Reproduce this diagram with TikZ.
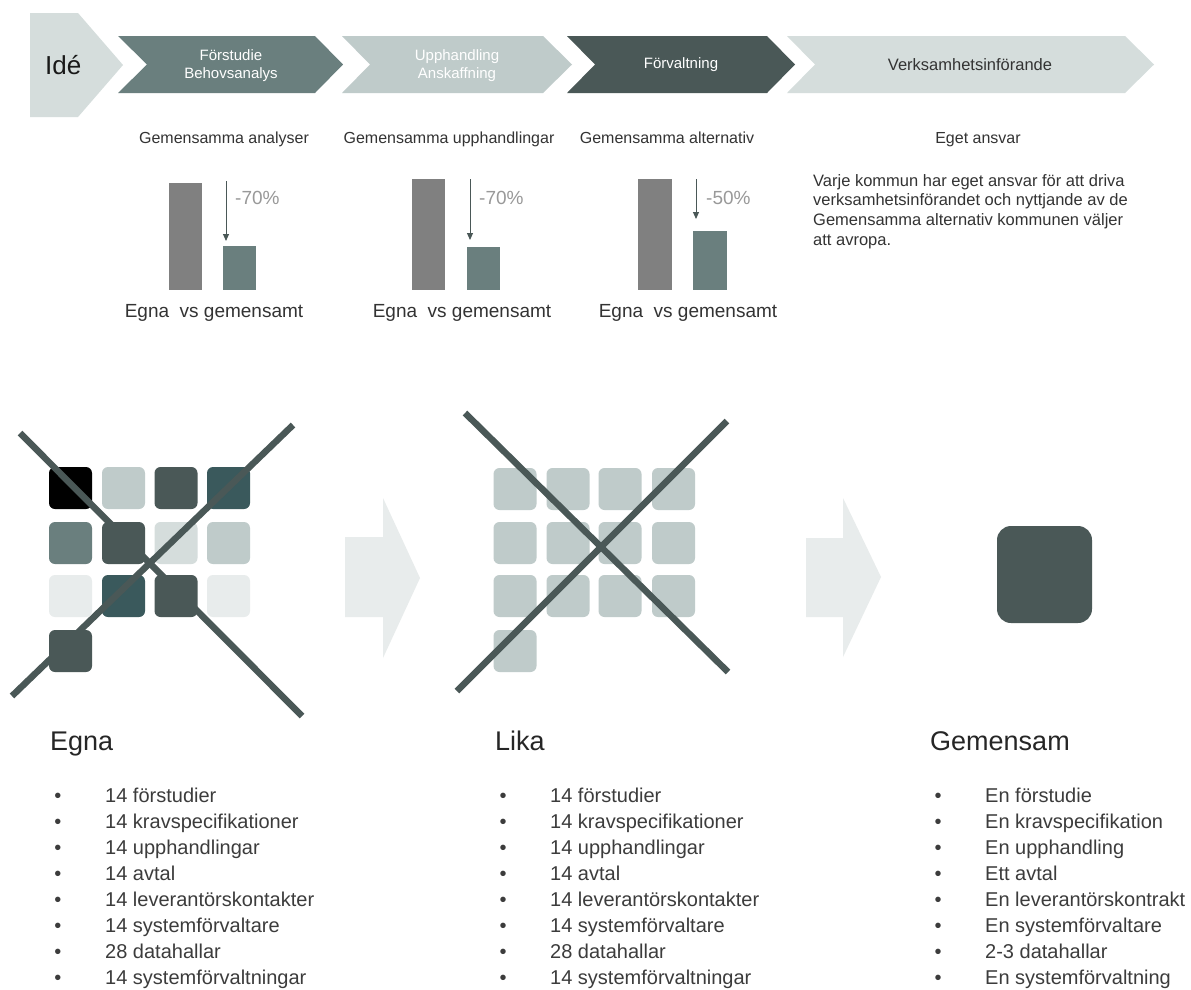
\documentclass[tikz,border=0pt]{standalone}
\usepackage{fontspec}
\setmainfont{Liberation Sans}
\usetikzlibrary{arrows.meta}
\definecolor{cLight}{HTML}{D5DDDC}
\definecolor{cMid}{HTML}{BFCBCA}
\definecolor{cTeal}{HTML}{6A7F7E}
\definecolor{cDark}{HTML}{4A5857}
\definecolor{cDeep}{HTML}{3A595C}
\definecolor{cPale}{HTML}{E8ECEC}
\definecolor{cBar}{HTML}{808080}
\definecolor{cTxt}{HTML}{333333}
\definecolor{cList}{HTML}{3C3C3C}
\definecolor{cPct}{HTML}{999999}
\begin{document}
\begin{tikzpicture}[x=1pt,y=-1pt,
  sq/.style={rectangle, rounded corners=6pt, minimum width=43pt, minimum height=42pt, inner sep=0pt},
  txt/.style={inner sep=0pt, text=cTxt},
  chevtxt/.style={inner sep=0pt, align=center, font=\fontsize{15}{18.5}\selectfont},
  caption/.style={txt, anchor=base, font=\fontsize{16}{19}\selectfont},
  para/.style={txt, anchor=base west, font=\fontsize{16.5}{19.5}\selectfont},
  evs/.style={txt, anchor=base, font=\fontsize{19}{22}\selectfont},
  pct/.style={inner sep=0pt, anchor=base west, text=cPct, font=\fontsize{19}{22}\selectfont},
  smallarrow/.style={draw=cDark, line width=1pt, -{Triangle[length=7pt,width=6pt]}},
  cross/.style={draw=cDark, line width=6.5pt},
  head/.style={inner sep=0pt, anchor=base west, text=black!85, font=\fontsize{27}{30}\selectfont},
  item/.style={inner sep=0pt, anchor=base west, text=cList, font=\fontsize{20}{24}\selectfont},
  bul/.style={inner sep=0pt, anchor=base, text=cList, font=\fontsize{20}{24}\selectfont},
  bigarrow/.style={fill=cPale}
]
\useasboundingbox (0,0) rectangle (1191,989);
\fill[white] (0,0) rectangle (1191,989);

% ---------- process banner ----------
\fill[cLight] (30,13) -- (78,13) -- (123,65) -- (78,117) -- (30,117) -- cycle;
\fill[cTeal] (118,36) -- (315,36) -- (343,64.5) -- (315,93) -- (118,93) -- (147,64.5) -- cycle;
\fill[cMid] (342,36) -- (543,36) -- (572,64.5) -- (543,93) -- (342,93) -- (370,64.5) -- cycle;
\fill[cDark] (567,36) -- (767,36) -- (795,64.5) -- (767,93) -- (567,93) -- (595,64.5) -- cycle;
\fill[cLight] (787,36) -- (1125,36) -- (1154,64.5) -- (1125,93) -- (787,93) -- (815,64.5) -- cycle;

\node[inner sep=0pt, anchor=base west, text=black!90, font=\fontsize{26}{30}\selectfont] (ide) at (45,74) {Idé};
\node[chevtxt, text=white] (fs) at (231,65.5) {Förstudie\\Behovsanalys};
\node[chevtxt, text=white] (up) at (457,65.5) {Upphandling\\Anskaffning};
\node[chevtxt, text=white] (fv) at (681,65) {Förvaltning};
\node[chevtxt, text=cTxt, font=\fontsize{16.5}{19}\selectfont] (vi) at (970,65) {Verksamhetsinförande};

% ---------- captions ----------
\node[caption] (c1) at (224,143) {Gemensamma analyser};
\node[caption] (c2) at (449,143) {Gemensamma upphandlingar};
\node[caption] (c3) at (667,143) {Gemensamma alternativ};
\node[caption] (c4) at (978,143) {Eget ansvar};

\node[para] (p1) at (813,186) {Varje kommun har eget ansvar för att driva};
\node[para] (p2) at (813,205.7) {verksamhetsinförandet och nyttjande av de};
\node[para] (p3) at (813,225.4) {Gemensamma alternativ kommunen väljer};
\node[para] (p4) at (813,245.1) {att avropa.};

% ---------- bar charts ----------
\fill[cBar] (169,183) rectangle (202,290);
\fill[cTeal] (223,246) rectangle (256,290);
\coordinate (a1s) at (226,181);
\coordinate (a1e) at (226,241);
\draw[smallarrow] (a1s) -- (a1e);
\node[pct] (pc1) at (235,204) {-70\%};
\node[evs] (e1) at (214,317) {Egna~ vs gemensamt};

\fill[cBar] (412,179) rectangle (445,290);
\fill[cTeal] (467,247) rectangle (500,290);
\coordinate (a2s) at (470,179);
\coordinate (a2e) at (470,240);
\draw[smallarrow] (a2s) -- (a2e);
\node[pct] (pc2) at (479,204) {-70\%};
\node[evs] (e2) at (462,317) {Egna~ vs gemensamt};

\fill[cBar] (638,179) rectangle (672,290);
\fill[cTeal] (693,231) rectangle (727,290);
\coordinate (a3s) at (696,179);
\coordinate (a3e) at (696,219);
\draw[smallarrow] (a3s) -- (a3e);
\node[pct] (pc3) at (706,204) {-50\%};
\node[evs] (e3) at (688,317) {Egna~ vs gemensamt};

% ---------- grid 1 (Egna) ----------
\node[sq, fill=black] (s11) at (70.5,488) {};
\node[sq, fill=cMid]  (s12) at (123.5,488) {};
\node[sq, fill=cDark] (s13) at (176,488) {};
\node[sq, fill=cDeep] (s14) at (228.5,488) {};
\node[sq, fill=cTeal] (s21) at (70.5,543) {};
\node[sq, fill=cDark] (s22) at (123.5,543) {};
\node[sq, fill=cLight] (s23) at (176,543) {};
\node[sq, fill=cMid] (s24) at (228.5,543) {};
\node[sq, fill=cPale] (s31) at (70.5,596) {};
\node[sq, fill=cDeep] (s32) at (123.5,596) {};
\node[sq, fill=cDark] (s33) at (176,596) {};
\node[sq, fill=cPale] (s34) at (228.5,596) {};
\node[sq, fill=cDark] (s41) at (70.5,651) {};
\coordinate (x1a) at (20,433);
\coordinate (x1b) at (302,716);
\coordinate (x1c) at (12,696);
\coordinate (x1d) at (293,425);
\draw[cross] (x1a) -- (x1b);
\draw[cross] (x1c) -- (x1d);

% ---------- grid 2 (Lika) ----------
\foreach \cx [count=\i] in {515,568,620,673.5}{
  \foreach \cy [count=\j] in {489,543,596}{
    \node[sq, fill=cMid] (t\j\i) at (\cx,\cy) {};
  }
}
\node[sq, fill=cMid] (t41) at (515,651) {};
\coordinate (x2a) at (465,413);
\coordinate (x2b) at (728,672);
\coordinate (x2c) at (457,691);
\coordinate (x2d) at (727,421);
\draw[cross] (x2a) -- (x2b);
\draw[cross] (x2c) -- (x2d);

% ---------- big arrows ----------
\fill[bigarrow] (345,537) -- (383,537) -- (383,498) -- (420,578) -- (383,658) -- (383,617) -- (345,617) -- cycle;
\fill[bigarrow] (806,538) -- (843,538) -- (843,498) -- (881,577) -- (843,657) -- (843,617) -- (806,617) -- cycle;

% ---------- single square ----------
\node[rectangle, rounded corners=14pt, minimum width=95pt, minimum height=97pt, inner sep=0pt, fill=cDark] (one) at (1044.5,574.5) {};

% ---------- headings ----------
\node[head] (h1) at (50,750) {Egna};
\node[head] (h2) at (495,750) {Lika};
\node[head] (h3) at (930,750) {Gemensam};

% ---------- lists ----------
\foreach \t [count=\i] in {14 förstudier, 14 kravspecifikationer, 14 upphandlingar, 14 avtal, 14 leverantörskontakter, 14 systemförvaltare, 28 datahallar, 14 systemförvaltningar}{
  \node[bul] (eb\i) at (58,{776+26*\i}) {•};
  \node[item] (ei\i) at (105,{776+26*\i}) {\t};
  \node[bul] (lb\i) at (503,{776+26*\i}) {•};
  \node[item] (li\i) at (550,{776+26*\i}) {\t};
}
\foreach \t [count=\i] in {En förstudie, En kravspecifikation, En upphandling, Ett avtal, En leverantörskontrakt, En systemförvaltare, 2-3 datahallar, En systemförvaltning}{
  \node[bul] (gb\i) at (938,{776+26*\i}) {•};
  \node[item] (gi\i) at (985,{776+26*\i}) {\t};
}
\end{tikzpicture}
\end{document}
